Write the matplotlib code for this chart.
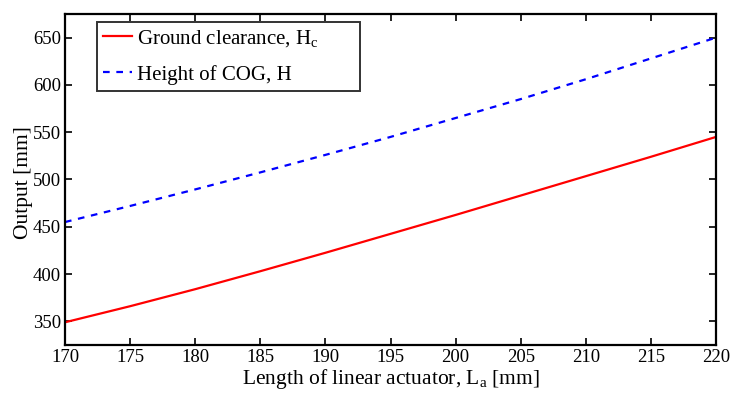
import numpy as np
import matplotlib.pyplot as plt

plt.rcParams['font.family'] = ['Liberation Serif', 'DejaVu Serif']
plt.rcParams['mathtext.fontset'] = 'custom'
plt.rcParams['mathtext.rm'] = 'Liberation Serif'
plt.rcParams['mathtext.it'] = 'Liberation Serif'

# data
L_a = [170, 175, 180, 185, 190, 195, 200, 205, 210, 215, 220]
H_c = [349, 366, 384, 403, 422.5, 442.5, 462.5, 483, 503.5, 524, 545]
H_cog = [455, 472, 489.5, 507.5, 526, 545, 565, 585, 606, 628, 650]

x_ticks = np.arange(170, 221, 5)
y_ticks = np.arange(350, 651, 50)

fig = plt.figure(figsize=(7.31, 3.94), dpi=100)
ax = fig.add_axes([65 / 731, 0.1244, 651 / 731, 0.8401])

ax.plot(L_a, H_c, color='red', lw=1.6, label=r'Ground clearance, H$_\mathrm{c}$')
ax.plot(L_a, H_cog, color='blue', lw=1.6, ls=(0, (3, 3)), label='Height of COG, H')

ax.set_xlim(170, 220)
ax.set_ylim(325, 675)
ax.set_xticks(x_ticks)
ax.set_yticks(y_ticks)
ax.tick_params(direction='in', length=5, width=1.2, top=True, right=True,
               labelsize=13.5, pad=3)
for s in ax.spines.values():
    s.set_linewidth(1.6)

ax.set_xlabel(r'Length of linear actuator, L$_\mathrm{a}$ [mm]', fontsize=15.5)
ax.xaxis.set_label_coords(0.5, -0.068)
ax.set_ylabel('Output [mm]', fontsize=15.5)
ax.yaxis.set_label_coords(-0.049, 0.49)

leg = ax.legend(loc='upper left',
                bbox_to_anchor=(97 / 731, 1 - 95 / 394, 263 / 731, 73 / 394),
                bbox_transform=fig.transFigure, mode='expand', fontsize=15,
                frameon=True, fancybox=False, edgecolor='black',
                handlelength=1.4, handletextpad=0.2, borderpad=0.3,
                labelspacing=0.75, borderaxespad=0)
leg.get_frame().set_linewidth(1.4)

fig.savefig('out.png', dpi=100)
